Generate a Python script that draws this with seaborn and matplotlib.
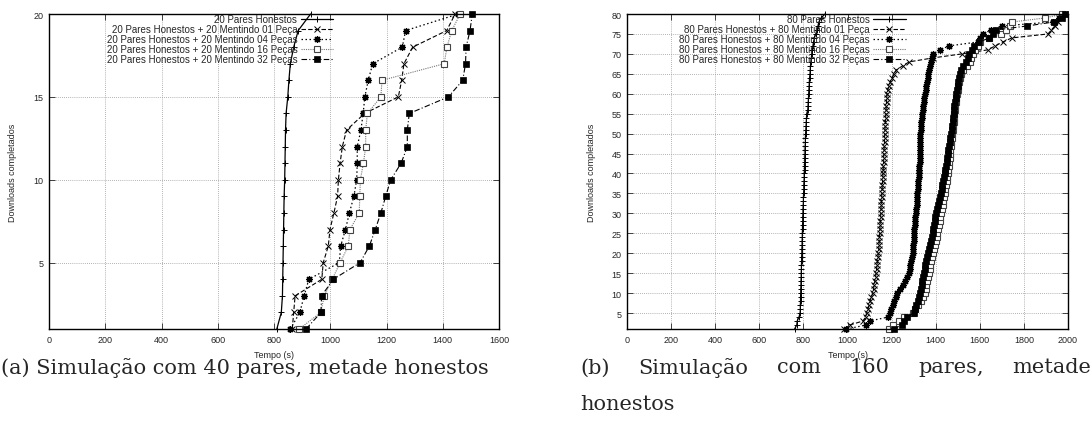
import matplotlib
matplotlib.use("Agg")
import matplotlib.pyplot as plt
import pandas as pd
import seaborn as sns

# ---------------- data ----------------
downloads_a = list(range(1, 21))
honest_a = [810, 826, 830, 831, 832, 833, 834, 835, 836, 838,
            839, 840, 841, 843, 849, 853, 858, 870, 886, 930]
lie01_a = [865, 870, 875, 970, 975, 993, 999, 1013, 1026, 1029,
           1035, 1043, 1058, 1122, 1242, 1254, 1262, 1293, 1414, 1444]
lie04_a = [858, 892, 907, 924, 1032, 1037, 1054, 1068, 1084, 1094,
           1096, 1096, 1109, 1117, 1123, 1135, 1151, 1256, 1268, 1455]
lie16_a = [890, 966, 979, 1007, 1035, 1064, 1070, 1103, 1105, 1107,
           1118, 1126, 1126, 1132, 1180, 1184, 1405, 1415, 1432, 1462]
lie32_a = [914, 967, 969, 1011, 1106, 1139, 1160, 1180, 1197, 1215,
           1252, 1274, 1274, 1281, 1420, 1471, 1481, 1483, 1497, 1505]

downloads_b = list(range(1, 81))
honest_b = [760, 770, 772, 780, 785, 786, 786, 787, 787, 788,
            788, 789, 789, 790, 790, 791, 791, 792, 792, 793,
            793, 794, 794, 795, 795, 796, 796, 797, 797, 798,
            798, 799, 800, 800, 801, 802, 802, 803, 804, 804,
            805, 805, 806, 806, 807, 807, 808, 809, 809, 810,
            811, 812, 813, 814, 815, 820, 821, 822, 823, 824,
            825, 826, 827, 828, 830, 831, 832, 834, 836, 838,
            840, 843, 846, 850, 856, 862, 866, 870, 880, 898]
lie01_b = [985, 1010, 1070, 1082, 1088, 1093, 1098, 1103, 1108, 1115,
           1118, 1121, 1124, 1127, 1130, 1132, 1134, 1136, 1138, 1140,
           1142, 1143, 1144, 1145, 1146, 1147, 1148, 1149, 1150, 1151,
           1152, 1153, 1154, 1155, 1156, 1157, 1158, 1159, 1160, 1161,
           1162, 1163, 1164, 1164, 1165, 1166, 1167, 1168, 1168, 1169,
           1170, 1171, 1172, 1173, 1174, 1175, 1176, 1177, 1178, 1180,
           1183, 1188, 1195, 1203, 1210, 1222, 1250, 1280, 1389, 1520,
           1635, 1670, 1705, 1745, 1910, 1925, 1940, 1955, 1970, 1985]
lie04_b = [995, 1085, 1100, 1185, 1192, 1198, 1205, 1212, 1218, 1225,
           1237, 1252, 1263, 1272, 1278, 1282, 1285, 1288, 1292, 1296,
           1298, 1299, 1300, 1301, 1302, 1303, 1305, 1306, 1308, 1310,
           1311, 1313, 1314, 1316, 1317, 1318, 1319, 1321, 1322, 1324,
           1325, 1326, 1327, 1328, 1328, 1329, 1329, 1330, 1330, 1331,
           1332, 1333, 1335, 1337, 1340, 1342, 1344, 1346, 1348, 1351,
           1354, 1357, 1360, 1363, 1366, 1371, 1376, 1380, 1385, 1388,
           1419, 1461, 1592, 1600, 1615, 1650, 1700, 1930, 1960, 1985]
lie16_b = [1190, 1205, 1235, 1255, 1298, 1307, 1320, 1332, 1342, 1350,
           1354, 1358, 1362, 1366, 1369, 1372, 1376, 1380, 1384, 1388,
           1392, 1396, 1400, 1404, 1408, 1411, 1414, 1418, 1421, 1425,
           1428, 1431, 1434, 1437, 1440, 1443, 1446, 1449, 1452, 1455,
           1457, 1459, 1461, 1463, 1465, 1467, 1469, 1471, 1473, 1475,
           1477, 1479, 1481, 1483, 1485, 1487, 1489, 1491, 1493, 1496,
           1499, 1502, 1506, 1510, 1515, 1525, 1540, 1556, 1562, 1568,
           1580, 1590, 1600, 1640, 1695, 1717, 1735, 1748, 1895, 1975]
lie32_b = [1210, 1245, 1258, 1268, 1300, 1306, 1312, 1318, 1323, 1328,
           1332, 1336, 1340, 1344, 1347, 1350, 1353, 1357, 1361, 1366,
           1370, 1374, 1378, 1382, 1386, 1389, 1392, 1395, 1399, 1403,
           1407, 1411, 1415, 1419, 1423, 1427, 1430, 1433, 1437, 1440,
           1443, 1446, 1449, 1452, 1455, 1458, 1461, 1464, 1467, 1470,
           1472, 1474, 1477, 1479, 1481, 1483, 1485, 1487, 1490, 1493,
           1496, 1499, 1502, 1505, 1508, 1515, 1525, 1538, 1546, 1553,
           1565, 1575, 1598, 1643, 1660, 1673, 1815, 1935, 1975, 1985]

labels_a = ["20 Pares Honestos",
            "20 Pares Honestos + 20 Mentindo 01 Peça",
            "20 Pares Honestos + 20 Mentindo 04 Peças",
            "20 Pares Honestos + 20 Mentindo 16 Peças",
            "20 Pares Honestos + 20 Mentindo 32 Peças"]
labels_b = ["80 Pares Honestos",
            "80 Pares Honestos + 80 Mentindo 01 Peça",
            "80 Pares Honestos + 80 Mentindo 04 Peças",
            "80 Pares Honestos + 80 Mentindo 16 Peças",
            "80 Pares Honestos + 80 Mentindo 32 Peças"]
xticks_a = [0, 200, 400, 600, 800, 1000, 1200, 1400, 1600]
yticks_a = [5, 10, 15, 20]
xticks_b = [0, 200, 400, 600, 800, 1000, 1200, 1400, 1600, 1800, 2000]
yticks_b = [5, 10, 15, 20, 25, 30, 35, 40, 45, 50, 55, 60, 65, 70, 75, 80]
xlabel = "Tempo (s)"
ylabel = "Downloads completados"
caption_a = "(a) Simulação com 40 pares, metade honestos"
caption_b_words = ["(b)", "Simulação", "com", "160", "pares,", "metade"]
caption_b_line2 = "honestos"

# ---------------- style ----------------
sns.set_style("ticks")
plt.rcParams["font.family"] = ["Liberation Sans", "DejaVu Sans"]

styles = [
    dict(color="black", linestyle="-", linewidth=0.9, marker="+",
         markersize=5, markeredgecolor="black", markeredgewidth=0.7),
    dict(color="black", linestyle=(0, (4, 2)), linewidth=0.8, marker="x",
         markersize=4, markeredgecolor="black", markeredgewidth=0.7),
    dict(color="black", linestyle=(0, (1.2, 2)), linewidth=0.9, marker=(8, 2, 0),
         markersize=5, markeredgecolor="black", markeredgewidth=0.9),
    dict(color="#777777", linestyle=(0, (1, 1)), linewidth=0.8, marker="s",
         markersize=4.2, markerfacecolor="white", markeredgecolor="#444444",
         markeredgewidth=0.8),
    dict(color="black", linestyle=(0, (5, 2, 1, 2)), linewidth=0.8, marker="s",
         markersize=4.5, markerfacecolor="black", markeredgecolor="black",
         markeredgewidth=0.5),
]

W, H = 1092, 435
fig = plt.figure(figsize=(W / 100, H / 100), dpi=100)
ax_a = fig.add_axes([49 / W, 1 - 330 / H, 450 / W, 315 / H])
ax_b = fig.add_axes([627 / W, 1 - 330 / H, 441 / W, 315 / H])


def draw(ax, ys, series, labels, xticks, yticks, xmax, ymax):
    for vals, lab, st in zip(series, labels, styles):
        df = pd.DataFrame({"t": vals, "d": ys})
        sns.lineplot(data=df, x="t", y="d", ax=ax, sort=False, estimator=None,
                     label=lab, clip_on=False, **st)
    ax.set_xlim(0, xmax)
    ax.set_ylim(1, ymax)
    ax.set_xticks(xticks)
    ax.set_yticks(yticks)
    ax.grid(True, color="#999999", linestyle=(0, (1, 1.5)), linewidth=0.6)
    ax.tick_params(direction="in", top=True, right=True, length=4,
                   width=0.6, labelsize=6.5, pad=4)
    for s in ax.spines.values():
        s.set_linewidth(1.0)
        s.set_color("black")
    ax.set_xlabel(xlabel, fontsize=6.5)
    ax.set_ylabel(ylabel, fontsize=6.5)
    ax.xaxis.set_label_coords(0.5, -0.066)
    ax.yaxis.set_label_coords(-0.071, 0.5)
    leg = ax.legend(loc="upper right", bbox_to_anchor=(0.636, 1.005),
                    frameon=False, markerfirst=False, fontsize=7,
                    handlelength=3.3, handletextpad=0.4, labelspacing=0.0,
                    borderaxespad=0.0, borderpad=0.2, numpoints=1)
    return leg


draw(ax_a, downloads_a, [honest_a, lie01_a, lie04_a, lie16_a, lie32_a],
     labels_a, xticks_a, yticks_a, 1600, 20)
draw(ax_b, downloads_b, [honest_b, lie01_b, lie04_b, lie16_b, lie32_b],
     labels_b, xticks_b, yticks_b, 2000, 80)

cap_font = dict(family="DejaVu Serif", fontsize=15, va="center")
fig.text(1 / W, 1 - 368 / H, caption_a, ha="left", **cap_font)

# justified first line of caption (b): spread words evenly from 580 to 1091 px
renderer = fig.canvas.get_renderer()
word_texts = [fig.text(0, 1 - 368 / H, wd, ha="left", **cap_font)
              for wd in caption_b_words]
widths = [t.get_window_extent(renderer).width for t in word_texts]
left_px, right_px = 580, 1091
gap = (right_px - left_px - sum(widths)) / (len(widths) - 1)
cur = left_px
for t, wpx in zip(word_texts, widths):
    t.set_x(cur / W)
    cur += wpx + gap
fig.text(580 / W, 1 - 405 / H, caption_b_line2, ha="left", **cap_font)

fig.savefig("out.png", dpi=100)
